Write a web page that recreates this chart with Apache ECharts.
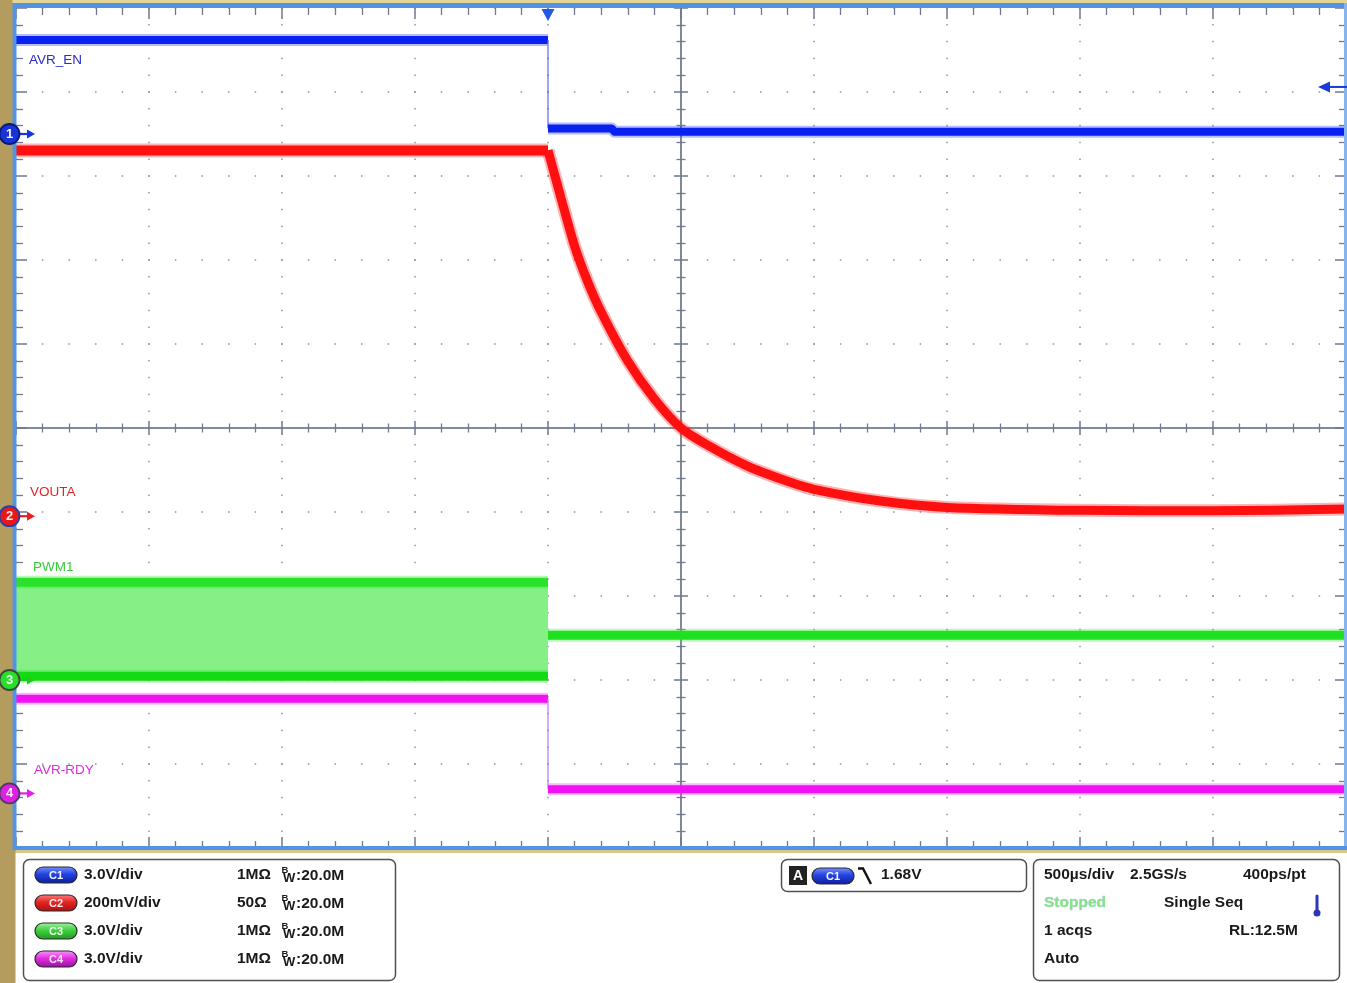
<!DOCTYPE html>
<html>
<head>
<meta charset="utf-8">
<script src="https://cdn.jsdelivr.net/npm/echarts@6/dist/echarts.min.js"></script>
<style>
html,body{margin:0;padding:0;background:#ffffff;}
#c{width:1347px;height:983px;}
</style>
</head>
<body>
<div id="c"></div>
<script>
// ================= DATA =================
// time axis (ms), 500 µs/div, trigger at t = 0
const timeMin = -2.0;
const timeMax = 3.0;
const timeStep = 0.5;
// vertical graticule in divisions
const divMin = -5;
const divMax = 5;

const channelIds = ['C1', 'C2', 'C3', 'C4'];
const channelNames = ['AVR_EN', 'VOUTA', 'PWM1', 'AVR-RDY'];
const voltsPerDiv = [3.0, 0.2, 3.0, 3.0];
const channelOffsetDiv = [3.5, -1.05, -3.0, -4.35];

// C1 AVR_EN  [t(ms), V]
const c1Pre = [[-2.0, 3.36], [0.0, 3.36]];
const c1Post = [[0.0, 0.20], [0.24, 0.20], [0.25, 0.08], [3.0, 0.08]];

// C2 VOUTA
const c2PreTime = [-2.0, 0.0];
const c2PreVolts = [0.871, 0.871];
const c2Time = [0.0, 0.05, 0.10, 0.15, 0.20, 0.30, 0.40, 0.50, 0.60, 0.75, 0.90, 1.00, 1.25, 1.50, 2.00, 2.50, 3.00];
const c2Volts = [0.871, 0.755, 0.643, 0.557, 0.486, 0.369, 0.279, 0.210, 0.169, 0.119, 0.083, 0.064, 0.036, 0.021, 0.014, 0.013, 0.017];

// C3 PWM1 (switching envelope before trigger, steady level after)
const c3PreHigh = [[-2.0, 3.49], [0.0, 3.49]];
const c3PreLow = [[-2.0, 0.13], [0.0, 0.13]];
const c3Post = [[0.0, 1.60], [3.0, 1.60]];

// C4 AVR-RDY
const c4Pre = [[-2.0, 3.38], [0.0, 3.38]];
const c4Post = [[0.0, 0.15], [3.0, 0.15]];

// trigger
const triggerTime = 0.0;
const triggerLevel = 1.68; // V on C1

// readout texts
const chanScaleText = ['3.0V/div', '200mV/div', '3.0V/div', '3.0V/div'];
const chanImpText = ['1MΩ', '50Ω', '1MΩ', '1MΩ'];
const chanBwText = ':20.0M';
const trigText = '1.68V';
const acqRow1 = ['500µs/div', '2.5GS/s', '400ps/pt'];
const acqRow2 = ['Stopped', 'Single Seq'];
const acqRow3 = ['1 acqs', 'RL:12.5M'];
const acqRow4 = ['Auto'];

// ================= STYLE =================
const FONT = "'Liberation Sans', Arial, sans-serif";
const traceColors = ['#0A22F0', '#FF1010', '#1EE01E', '#F012F0'];
const haloColors = ['rgba(40,70,255,0.35)', 'rgba(255,40,40,0.35)', 'rgba(60,235,60,0.35)', 'rgba(245,60,245,0.35)'];
const gridCol = '#6E7A8E';
const dotCol = '#8C94A4';

function toDiv(ch, v) { return channelOffsetDiv[ch] + v / voltsPerDiv[ch]; }
function mapPts(ch, pts) { return pts.map(p => [p[0], toDiv(ch, p[1])]); }

function lineSeries(data, color, width, extra) {
  return Object.assign({
    type: 'line', data: data, xAxisIndex: 0, yAxisIndex: 0,
    symbol: 'none', silent: true, animation: false, z: 5,
    lineStyle: { color: color, width: width, cap: 'butt', join: 'round' }
  }, extra || {});
}

const series = [];
// C3 PWM1 band
const c3High = mapPts(2, c3PreHigh);
const c3Low = mapPts(2, c3PreLow);
const c3P = mapPts(2, c3Post);
series.push(lineSeries(c3High, '#22DE22', 9, {
  areaStyle: { color: '#86F086', opacity: 1, origin: toDiv(2, c3PreLow[0][1]) }, z: 4
}));
series.push(lineSeries(c3High, haloColors[2], 13, { z: 4 }));
series.push(lineSeries(c3Low, haloColors[2], 13, { z: 4 }));
series.push(lineSeries(c3Low, '#14DA14', 9, { z: 5 }));
series.push(lineSeries(c3P, haloColors[2], 13, { z: 4 }));
series.push(lineSeries(c3P, traceColors[2], 9));

// C4 AVR-RDY
const c4A = mapPts(3, c4Pre), c4B = mapPts(3, c4Post);
series.push(lineSeries(c4A, haloColors[3], 12, { z: 4 }));
series.push(lineSeries(c4A, traceColors[3], 8));
series.push(lineSeries([c4A[c4A.length - 1], c4B[0]], '#B47CF0', 1.2));
series.push(lineSeries(c4B, haloColors[3], 12, { z: 4 }));
series.push(lineSeries(c4B, traceColors[3], 8));

// C2 VOUTA
const c2Flat = c2PreTime.map((t, i) => [t, toDiv(1, c2PreVolts[i])]);
const c2Dec = c2Time.map((t, i) => [t, toDiv(1, c2Volts[i])]);
series.push(lineSeries(c2Flat, haloColors[1], 14, { z: 4 }));
series.push(lineSeries(c2Flat, traceColors[1], 10));
series.push(lineSeries(c2Dec, haloColors[1], 13, { z: 4, smooth: 0.25 }));
series.push(lineSeries(c2Dec, traceColors[1], 9, { smooth: 0.25 }));

// C1 AVR_EN
const c1A = mapPts(0, c1Pre), c1B = mapPts(0, c1Post);
series.push(lineSeries(c1A, haloColors[0], 12, { z: 4 }));
series.push(lineSeries(c1A, traceColors[0], 8));
series.push(lineSeries([c1A[c1A.length - 1], c1B[0]], '#5A6CF0', 1.2));
series.push(lineSeries(c1B, haloColors[0], 12, { z: 4 }));
series.push(lineSeries(c1B, traceColors[0], 8));

// ================= AXES =================
function xAx(pos, offset, opts) {
  return Object.assign({
    type: 'value', min: timeMin, max: timeMax, interval: timeStep, position: pos, offset: offset,
    axisLabel: { show: false },
    axisLine: { show: false, onZero: false },
    axisTick: { show: true, inside: true, length: 11, lineStyle: { color: gridCol, width: 1.5 } },
    minorTick: { show: true, splitNumber: 5, length: 7, lineStyle: { color: gridCol, width: 1.3 } },
    splitLine: { show: false }
  }, opts || {});
}
function yAx(pos, offset, opts) {
  return Object.assign({
    type: 'value', min: divMin, max: divMax, interval: 1, position: pos, offset: offset,
    axisLabel: { show: false },
    axisLine: { show: false, onZero: false },
    axisTick: { show: true, inside: true, length: 11, lineStyle: { color: gridCol, width: 1.5 } },
    minorTick: { show: true, splitNumber: 5, length: 7, lineStyle: { color: gridCol, width: 1.3 } },
    splitLine: { show: false }
  }, opts || {});
}
const centerLine = { show: true, onZero: false, lineStyle: { color: '#7A8496', width: 1.6 } };
const centerTick = { show: true, inside: true, length: 7, lineStyle: { color: gridCol, width: 1.5 } };
const centerMinor = { show: true, splitNumber: 5, length: 4.5, lineStyle: { color: gridCol, width: 1.3 } };

const xAxes = [
  xAx('bottom', 0, { splitLine: { show: true, lineStyle: { color: dotCol, width: 1.5, type: [1.5, 15.3], dashOffset: 0.75 } } }),
  xAx('top', 0),
  xAx('bottom', -420, { axisLine: centerLine, axisTick: centerTick, minorTick: centerMinor }),
  xAx('top', -420, { axisLine: centerLine, axisTick: centerTick, minorTick: centerMinor })
];
const yAxes = [
  yAx('left', 0, { splitLine: { show: true, lineStyle: { color: dotCol, width: 1.5, type: [1.5, 25.1], dashOffset: 0.75 } } }),
  yAx('right', 0),
  yAx('left', -665, { axisLine: centerLine, axisTick: centerTick, minorTick: centerMinor }),
  yAx('right', -665, { axisLine: centerLine, axisTick: centerTick, minorTick: centerMinor })
];

const chart = echarts.init(document.getElementById('c'), null, { renderer: 'canvas', width: 1347, height: 983 });
chart.setOption({
  animation: false,
  backgroundColor: '#ffffff',
  grid: { left: 16, top: 8, width: 1330, height: 840, containLabel: false, outerBoundsMode: 'none', show: false },
  xAxis: xAxes,
  yAxis: yAxes,
  series: series
});

// ================= DECORATION =================
function px(t, d) { return chart.convertToPixel({ xAxisIndex: 0, yAxisIndex: 0 }, [t, d]); }
const g = [];
const Z = 50;
// frame
g.push({ type: 'rect', z: Z, shape: { x: 0, y: 0, width: 1347, height: 3 }, style: { fill: '#E4D596' } });
g.push({ type: 'rect', z: Z, shape: { x: 0, y: 3, width: 1347, height: 5 }, style: { fill: '#5393E4' } });
g.push({ type: 'rect', z: Z, shape: { x: 12, y: 3, width: 4.5, height: 847 }, style: { fill: '#5393E4' } });
g.push({ type: 'rect', z: Z, shape: { x: 1344, y: 3, width: 3, height: 847 }, style: { fill: '#86B4EE' } });
g.push({ type: 'rect', z: Z, shape: { x: 0, y: 846, width: 1347, height: 4 }, style: { fill: '#5393E4' } });
g.push({ type: 'rect', z: Z, shape: { x: 0, y: 850, width: 1347, height: 3 }, style: { fill: '#D8C68A' } });
g.push({ type: 'rect', z: Z, shape: { x: 0, y: 0, width: 12.5, height: 983 }, style: { fill: '#B49C5E' } });
g.push({ type: 'rect', z: Z, shape: { x: 0, y: 850, width: 15.5, height: 133 }, style: { fill: '#B49C5E' } });

// trigger position marker
const tp = px(triggerTime, 0);
g.push({ type: 'polygon', z: Z + 1, shape: { points: [[tp[0] - 6.5, 9], [tp[0] + 6.5, 9], [tp[0], 21]] }, style: { fill: '#2258E6' } });
// trigger level marker (right)
const tl = px(timeMax, toDiv(0, triggerLevel));
g.push({ type: 'line', z: Z + 1, shape: { x1: 1329, y1: tl[1], x2: 1347, y2: tl[1] }, style: { stroke: '#1A3AD8', lineWidth: 2 } });
g.push({ type: 'polygon', z: Z + 1, shape: { points: [[1318, tl[1]], [1330, tl[1] - 5.5], [1330, tl[1] + 5.5]] }, style: { fill: '#1A3AD8' } });

// channel ground markers
const markFill = ['#1833D8', '#E81818', '#2CDC2C', '#E020E0'];
const markStroke = ['#0A1A7A', '#2040B0', '#3A4A3A', '#4A3A6A'];
const markText = ['#F4F6FF', '#FFE8E8', '#E8FFE8', '#FFE8FF'];
const arrowCol = ['#1535E0', '#E82020', '#22C822', '#E020E0'];
for (let i = 0; i < 4; i++) {
  const p = px(timeMin, channelOffsetDiv[i]);
  const y = p[1];
  g.push({ type: 'line', z: Z + 2, shape: { x1: 18, y1: y, x2: 29, y2: y }, style: { stroke: arrowCol[i], lineWidth: 2.2 } });
  g.push({ type: 'polygon', z: Z + 2, shape: { points: [[27, y - 4.5], [35, y], [27, y + 4.5]] }, style: { fill: arrowCol[i] } });
  g.push({ type: 'circle', z: Z + 3, shape: { cx: 9.5, cy: y, r: 10 }, style: { fill: markFill[i], stroke: markStroke[i], lineWidth: 1.8 } });
  g.push({ type: 'text', z: Z + 4, style: { x: 9.5, y: y + 0.5, text: String(i + 1), fill: markText[i], font: 'bold 13px ' + FONT, align: 'center', verticalAlign: 'middle' } });
}

// trace labels
const labelPos = [[29, 60], [30, 492], [33, 567], [34, 770]];
const labelCol = ['#2A2ACC', '#E42424', '#3AC83A', '#E228E2'];
for (let i = 0; i < 4; i++) {
  g.push({ type: 'text', z: Z, style: { x: labelPos[i][0], y: labelPos[i][1], text: channelNames[i], fill: labelCol[i], font: '13.5px ' + FONT, verticalAlign: 'middle' } });
}

// ---------- readout panel ----------
const boxStyle = { fill: '#ffffff', stroke: '#505050', lineWidth: 1.5 };
g.push({ type: 'rect', z: Z, shape: { x: 23.5, y: 859.5, width: 372, height: 121, r: 6 }, style: boxStyle });
g.push({ type: 'rect', z: Z, shape: { x: 781.5, y: 859.5, width: 245, height: 32, r: 6 }, style: boxStyle });
g.push({ type: 'rect', z: Z, shape: { x: 1033.5, y: 859.5, width: 306, height: 121, r: 6 }, style: boxStyle });

const TXT = 'bold 15.5px ' + FONT;
const txtCol = '#1A1A1A';
function txt(x, y, s, extra) {
  g.push({ type: 'text', z: Z + 1, style: Object.assign({ x: x, y: y, text: s, fill: txtCol, font: TXT, verticalAlign: 'middle' }, extra || {}) });
}
const pillTop = ['#7E95FF', '#FF8080', '#A8F4A8', '#FA9AFA'];
const pillMid = ['#2244E2', '#E42424', '#40D040', '#E030E0'];
const pillBot = ['#0C1C9A', '#A81010', '#1E9A1E', '#9A109A'];
function pill(x, y, i) {
  g.push({ type: 'rect', z: Z + 1, shape: { x: x, y: y - 8, width: 42, height: 16, r: 8 },
    style: { fill: new echarts.graphic.LinearGradient(0, 0, 0, 1, [
      { offset: 0, color: pillTop[i] }, { offset: 0.45, color: pillMid[i] }, { offset: 1, color: pillBot[i] }]),
      stroke: '#2A2A2A', lineWidth: 1.2 } });
  g.push({ type: 'text', z: Z + 2, style: { x: x + 21, y: y + 0.5, text: channelIds[i], fill: markText[i], font: 'bold 11px ' + FONT, align: 'center', verticalAlign: 'middle' } });
}
const rowY = [875, 903, 931, 959];
for (let i = 0; i < 4; i++) {
  const y = rowY[i];
  pill(35, y, i);
  txt(84, y, chanScaleText[i]);
  txt(237, y, chanImpText[i]);
  txt(281.5, y - 4.5, 'B', { font: 'bold 9.5px ' + FONT });
  txt(283, y + 3.5, 'W', { font: 'bold 13px ' + FONT });
  txt(296, y + 1, chanBwText);
}
// trigger box
g.push({ type: 'rect', z: Z + 1, shape: { x: 789, y: 866, width: 18, height: 19 }, style: { fill: '#222222' } });
g.push({ type: 'text', z: Z + 2, style: { x: 798, y: 876, text: 'A', fill: '#ffffff', font: 'bold 14px ' + FONT, align: 'center', verticalAlign: 'middle' } });
pill(812, 876, 0);
g.push({ type: 'polyline', z: Z + 1, shape: { points: [[858, 868.5], [863, 868.5], [871, 884]] }, style: { stroke: '#111111', lineWidth: 2.4, fill: null } });
txt(881, 875, trigText);

// acquisition box
txt(1044, 875, acqRow1[0]);
txt(1130, 875, acqRow1[1]);
txt(1243, 875, acqRow1[2]);
txt(1044, 903, acqRow2[0], { fill: '#86E486', stroke: 'rgba(120,170,230,0.5)', lineWidth: 0.6 });
txt(1164, 903, acqRow2[1]);
txt(1044, 931, acqRow3[0]);
txt(1229, 931, acqRow3[1]);
txt(1044, 959, acqRow4[0]);
// thermometer icon
g.push({ type: 'line', z: Z + 1, shape: { x1: 1317, y1: 896, x2: 1317, y2: 912 }, style: { stroke: '#2838B8', lineWidth: 3, lineCap: 'round' } });
g.push({ type: 'circle', z: Z + 1, shape: { cx: 1317, cy: 913, r: 3.5 }, style: { fill: '#2838B8' } });

chart.setOption({ graphic: { elements: g } });
</script>
</body>
</html>
